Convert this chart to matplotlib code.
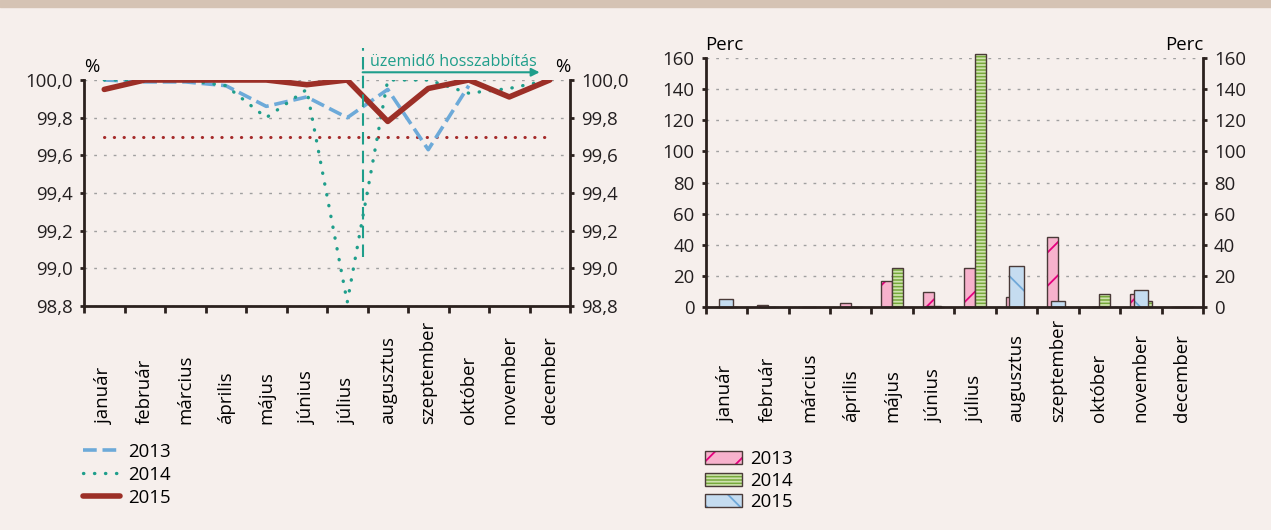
import numpy as np
import matplotlib.pyplot as plt
import matplotlib.transforms as mtransforms
from matplotlib.patches import Patch, Rectangle
from matplotlib.legend_handler import HandlerTuple

plt.rcParams['font.family'] = ['Open Sans', 'DejaVu Sans']
plt.rcParams['font.size'] = 13.4
plt.rcParams['hatch.linewidth'] = 1.3

months = ['január', 'február', 'március', 'április', 'május', 'június',
          'július', 'augusztus', 'szeptember', 'október', 'november', 'december']

# rendelkezésre állás, %
avail_2013 = [100.0, 99.99, 99.99, 99.97, 99.86, 99.91, 99.80, 99.95, 99.63, 99.97, np.nan, np.nan]
avail_2014 = [100.0, 100.0, 100.0, 99.97, 99.80, 99.95, 98.82, 100.0, 100.0, 99.93, 99.955, 100.0]
avail_2015 = [99.95, 100.0, 100.0, 100.0, 100.0, 99.975, 100.0, 99.78, 99.955, 100.0, 99.91, 100.0]
target = 99.7

# kiesés, perc
min_2013 = [0, 1, 0, 2.5, 16.5, 9.5, 25.2, 6.5, 45.0, 0, 8.2, 0]
min_2014 = [0, 0, 0, 0, 25.2, 0, 162.5, 0, 0, 8.3, 3.8, 0]
min_2015 = [5.2, 0, 0, 0, 0, 0.8, 0, 26.6, 3.6, 0, 10.9, 0]

ext_x = 6.38          # üzemidő hosszabbítás kezdete
ext_end = 10.75

BG = '#F6EFEC'
BAND = '#D5C3B4'
DARK = '#2B211E'
GRID = '#A0A0A0'
TEAL = '#1F9E8B'

W, H = 1271, 530
fig = plt.figure(figsize=(W / 100, H / 100), dpi=100, facecolor=BG)
fig.patches.append(Rectangle((0, 1 - 7 / H), 1, 7 / H, transform=fig.transFigure,
                             color=BAND, zorder=0))

x = np.arange(len(months))


def style_axes(ax):
    ax.set_facecolor('none')
    ax.spines['top'].set_visible(False)
    for s in ['left', 'right', 'bottom']:
        ax.spines[s].set_color(DARK)
        ax.spines[s].set_linewidth(2)
    ax.set_xlim(-0.5, len(months) - 0.5)
    ax.set_xticks(np.arange(-0.5, len(months), 1))
    ax.set_xticklabels([])
    ax.tick_params(axis='x', direction='out', length=5, width=2, color=DARK)
    ax.tick_params(axis='y', left=True, right=True, labelleft=True, labelright=True,
                   direction='out', length=3, width=2, color=DARK, labelcolor='#231F20', pad=5)
    ax.yaxis.grid(True, color=GRID, linestyle=(0, (2, 5)), linewidth=1)
    ax.set_axisbelow(True)
    trans = mtransforms.blended_transform_factory(ax.transData, fig.transFigure)
    return trans


############## rendelkezésre állás ###############
ax1 = fig.add_axes([84 / W, 1 - 306 / H, (570 - 84) / W, 226 / H])
trans1 = style_axes(ax1)
ax1.set_ylim(98.8, 100.0)
yt = np.arange(98.8, 100.01, 0.2)
ax1.set_yticks(yt)
ax1.set_yticklabels([f'{v:.1f}'.replace('.', ',') for v in yt])

ax1.plot(x[[0, -1]], [target, target], color='#A52A2A', lw=2.2,
         ls=(0, (0.1, 3.1)), dash_capstyle='round')
ax1.plot(x, avail_2013, color='#6DAAD9', lw=2.6, ls=(0, (3.8, 1.6)), label='2013')
ax1.plot(x, avail_2014, color=TEAL, lw=2.4, ls=(0, (0.1, 3.2)),
         dash_capstyle='round', label='2014')
ax1.plot(x, avail_2015, color='#9C2F27', lw=4.0, solid_capstyle='round', label='2015')

ax1.plot([ext_x, ext_x], [99.06, 100.17], color=TEAL, lw=1.5, ls=(0, (6, 3)), clip_on=False)
ax1.annotate('', xy=(ext_end, 100.041), xytext=(ext_x, 100.041),
             arrowprops=dict(arrowstyle='-|>', color=TEAL, lw=1.5, mutation_scale=12,
                             shrinkA=0, shrinkB=0), annotation_clip=False)
ax1.text(ext_x + 0.19, 100.074, 'üzemidő hosszabbítás', color=TEAL, va='baseline',
         ha='left', fontsize=11.6)

ax1.text(0, 1.035, '%', transform=ax1.transAxes, ha='left', va='baseline')
ax1.text(1, 1.035, '%', transform=ax1.transAxes, ha='right', va='baseline')

for i, m in enumerate(months):
    ax1.text(i, 1 - 424 / H, m, transform=trans1, rotation=90, ha='center', va='bottom')

fig.legend(handles=ax1.get_lines()[1:4], labels=['2013', '2014', '2015'],
           loc='upper left', bbox_to_anchor=(83 / W, 1 - 443 / H), frameon=False,
           borderpad=0, borderaxespad=0, handlelength=2.0, handletextpad=0.45,
           labelspacing=0.26)

############## kiesés percben ###############
ax2 = fig.add_axes([705.6 / W, 1 - 307 / H, (1203 - 705.6) / W, 249 / H])
trans2 = style_axes(ax2)
ax2.set_ylim(0, 160)
ax2.set_yticks(np.arange(0, 161, 20))

bw = 0.263
bw15 = 0.34
OUT = '#4A3A38'
series = [
    (x - bw, min_2013, bw, '#F7B2CC', '#E6007E', '/'),
    (x, min_2014, bw, '#76A93A', '#CFE2AE', '-----'),
    (x - bw15 / 2, min_2015, bw15, '#C5DCF0', '#6FA8D8', '\\'),
]
handles = []
for pos, vals, w, fc, hc, ht in series:
    ax2.bar(pos, vals, width=w, align='edge', color=fc, edgecolor=hc, hatch=ht,
            linewidth=0, clip_on=False)
    ax2.bar(pos, vals, width=w, align='edge', fill=False, edgecolor=OUT, linewidth=1,
            clip_on=False)
    handles.append((Patch(facecolor=fc, edgecolor=hc, hatch=ht, linewidth=0),
                    Patch(fill=False, edgecolor=OUT, linewidth=1)))

ax2.text(0, 1.032, 'Perc', transform=ax2.transAxes, ha='left', va='baseline')
ax2.text(1, 1.032, 'Perc', transform=ax2.transAxes, ha='right', va='baseline')

for i, m in enumerate(months):
    ax2.text(i, 1 - 422 / H, m, transform=trans2, rotation=90, ha='center', va='bottom')

fig.legend(handles=handles, labels=['2013', '2014', '2015'],
           handler_map={tuple: HandlerTuple(ndivide=1)},
           loc='upper left', bbox_to_anchor=(705 / W, 1 - 450 / H), frameon=False,
           borderpad=0, borderaxespad=0, handlelength=2.0, handleheight=0.7,
           handletextpad=0.45, labelspacing=0.19)

plt.savefig('out.png', dpi=100, facecolor=BG)
